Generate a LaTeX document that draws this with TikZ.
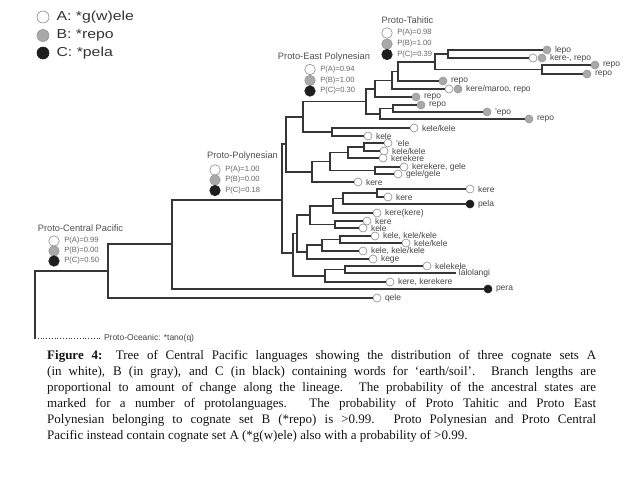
\documentclass[tikz,border=0pt]{standalone}
\usepackage{fontspec}
\setmainfont{Liberation Serif}
\setsansfont{Liberation Sans}
\usepackage{graphicx}
\definecolor{brc}{HTML}{363636}
\definecolor{cAd}{HTML}{8C8C8C}
\definecolor{cBf}{HTML}{A9A9A9}
\definecolor{cBd}{HTML}{989898}
\definecolor{cCf}{HTML}{1E1E1E}
\definecolor{ltxt}{HTML}{454545}
\definecolor{ntxt}{HTML}{505050}
\definecolor{ptc}{HTML}{666666}
\newcommand{\wideit}[1]{\scalebox{1.22}[1]{#1}}
\tikzset{
 branch/.style={draw=brc, line width=1.5pt, line cap=rect},
 dotline/.style={draw=brc, line width=0.8pt, dotted},
 leafA/.style={circle, draw=cAd, fill=white, line width=0.6pt, minimum size=8pt, inner sep=0pt},
 leafB/.style={circle, draw=cBd, fill=cBf, line width=0.6pt, minimum size=8pt, inner sep=0pt},
 leafC/.style={circle, draw=cCf, fill=cCf, line width=0.6pt, minimum size=8pt, inner sep=0pt},
 endpt/.style={inner sep=0pt, minimum size=0pt},
 leaflab/.style={font=\sffamily\fontsize{8.5}{10}\selectfont, text=ltxt, inner ysep=0pt, inner xsep=3.5pt},
 protolab/.style={font=\sffamily\fontsize{9.3}{11}\selectfont, text=ntxt, inner sep=0pt},
 probA/.style={leafA, minimum size=10.5pt},
 probB/.style={leafB, minimum size=10.5pt},
 probC/.style={leafC, minimum size=10.5pt},
 probtxt/.style={font=\sffamily\fontsize{7.6}{9}\selectfont, text=ptc, inner ysep=0pt, inner xsep=4.5pt},
 legA/.style={leafA, minimum size=12pt},
 legB/.style={leafB, minimum size=12pt},
 legC/.style={leafC, minimum size=12pt},
 legtxt/.style={font=\sffamily\fontsize{13}{15}\selectfont, text=black!80, inner ysep=0pt, inner xsep=7pt},
}
\begin{document}
\begin{tikzpicture}[x=1pt,y=-1pt]
\fill[white] (0,0) rectangle (640,480);
\useasboundingbox (0,0) rectangle (640,480);

% legend
\node[legA, label={[legtxt]right:{\wideit{A: *g(w)ele}}}] (legA) at (43,17) {};
\node[legB, label={[legtxt]right:{\wideit{B: *repo}}}] (legB) at (43,35.5) {};
\node[legC, label={[legtxt]right:{\wideit{C: *pela}}}] (legC) at (43,53) {};

% internal nodes
\coordinate (R) at (35,304.5);
\coordinate (CP) at (108,271);
\coordinate (PPa) at (172,244);
\coordinate (PP) at (282,200);
\coordinate (N1) at (286,144);
\coordinate (N2) at (303,117);
\coordinate (PEP) at (366,101.5);
\coordinate (T1) at (375,89);
\coordinate (T2) at (392,80.5);
\coordinate (T3) at (398,71.5);
\coordinate (T4) at (435,62);
\coordinate (T5) at (448,54);
\coordinate (T6) at (542,69.5);
\coordinate (E2) at (380,114);
\coordinate (E3) at (393,108.5);
\coordinate (KK) at (332,132);
\coordinate (K) at (312,172);
\coordinate (PQ) at (330,161.5);
\coordinate (P) at (348,152.5);
\coordinate (KA) at (364,147);
\coordinate (Q) at (375,170.5);
\coordinate (G) at (293,253);
\coordinate (K9) at (297,233.5);
\coordinate (K5) at (310,215);
\coordinate (K3) at (333,206);
\coordinate (K2) at (343,198.5);
\coordinate (K1) at (377,193);
\coordinate (K4) at (335,224.5);
\coordinate (K8) at (307,252);
\coordinate (K7) at (322,245);
\coordinate (K6) at (340,239.5);
\coordinate (K11) at (325,276);
\coordinate (K10) at (345,269.5);

% leaves
\node[leafB, label={[leaflab]right:lepo}] (l1) at (547,50) {};
\node[leafA] (l2a) at (533,58) {};
\node[leafB, label={[leaflab]right:{kere-, repo}}] (l2) at (542,58) {};
\node[leafB, label={[leaflab]right:repo}] (l3) at (595,65) {};
\node[leafB, label={[leaflab]right:repo}] (l4) at (587,74) {};
\node[leafB, label={[leaflab]right:repo}] (l5) at (443,81) {};
\node[leafA] (l6a) at (449,89) {};
\node[leafB, label={[leaflab]right:{kere/maroo, repo}}] (l6) at (458,89) {};
\node[leafB, label={[leaflab]right:repo}] (l7) at (416,97) {};
\node[leafB, label={[leaflab]right:repo}] (l8) at (421,105) {};
\node[leafB, label={[leaflab]right:'epo}] (l9) at (487,112) {};
\node[leafB, label={[leaflab]right:repo}] (l10) at (529,119) {};
\node[leafA, label={[leaflab]right:kele/kele}] (l11) at (414,128) {};
\node[leafA, label={[leaflab]right:kele}] (l12) at (368,136) {};
\node[leafA, label={[leaflab]right:'ele}] (l13) at (388,143) {};
\node[leafA, label={[leaflab]right:kele/kele}] (l14) at (384,151) {};
\node[leafA, label={[leaflab]right:kerekere}] (l15) at (383,158) {};
\node[leafA, label={[leaflab]right:{kerekere, gele}}] (l16) at (404,167) {};
\node[leafA, label={[leaflab]right:gele/gele}] (l17) at (398,174) {};
\node[leafA, label={[leaflab]right:kere}] (l18) at (358,182) {};
\node[leafA, label={[leaflab]right:kere}] (l19) at (470,189) {};
\node[leafA, label={[leaflab]right:kere}] (l20) at (388,197) {};
\node[leafC, label={[leaflab]right:pela}] (l21) at (470,204) {};
\node[leafA, label={[leaflab]right:kere(kere)}] (l22) at (377,213) {};
\node[leafA, label={[leaflab]right:kere}] (l23) at (367,221) {};
\node[leafA, label={[leaflab]right:kele}] (l24) at (363,228) {};
\node[leafA, label={[leaflab]right:{kele, kele/kele}}] (l25) at (375,236) {};
\node[leafA, label={[leaflab]right:kele/kele}] (l26) at (406,243) {};
\node[leafA, label={[leaflab]right:{kele, kele/kele}}] (l27) at (363,251) {};
\node[leafA, label={[leaflab]right:kege}] (l28) at (373,259) {};
\node[leafA, label={[leaflab]right:kelekele}] (l29) at (427,266) {};
\node[endpt, label={[leaflab]right:lalolangi}] (l30) at (455,273) {};
\node[leafA, label={[leaflab]right:{kere, kerekere}}] (l31) at (390,282) {};
\node[leafC, label={[leaflab]right:pera}] (l32) at (488,289) {};
\node[leafA, label={[leaflab]right:qele}] (l33) at (377,298) {};

\node[leaflab, anchor=west, inner xsep=0pt, outer sep=3pt] (PO) at (101,338) {Proto-Oceanic: *tano(q)};

% branches
\draw[branch] (R) |- (CP);
\draw[branch] (R) -- (R |- PO.west);
\draw[dotline] (R |- PO.west) -- (PO.west);
\draw[branch] (CP) |- (PPa);
\draw[branch] (CP) |- (l33.west);
\draw[branch] (PPa) |- (PP);
\draw[branch] (PPa) |- (l32.west);
\draw[branch] (PP) |- (N1);
\draw[branch] (PP) |- (G);
\draw[branch] (N1) |- (N2);
\draw[branch] (N1) |- (K);
\draw[branch] (N2) |- (PEP);
\draw[branch] (N2) |- (KK);
\draw[branch] (PEP) |- (T1);
\draw[branch] (PEP) |- (E2);
\draw[branch] (T1) |- (T2);
\draw[branch] (T1) |- (l7.west);
\draw[branch] (T2) |- (T3);
\draw[branch] (T2) |- (l6a.west);
\draw[branch] (T3) |- (T4);
\draw[branch] (T3) |- (l5.west);
\draw[branch] (T4) |- (T5);
\draw[branch] (T4) |- (T6);
\draw[branch] (T5) |- (l1.west);
\draw[branch] (T5) |- (l2a.west);
\draw[branch] (T6) |- (l3.west);
\draw[branch] (T6) |- (l4.west);
\draw[branch] (E2) |- (E3);
\draw[branch] (E2) |- (l10.west);
\draw[branch] (E3) |- (l8.west);
\draw[branch] (E3) |- (l9.west);
\draw[branch] (KK) |- (l11.west);
\draw[branch] (KK) |- (l12.west);
\draw[branch] (K) |- (PQ);
\draw[branch] (K) |- (l18.west);
\draw[branch] (PQ) |- (P);
\draw[branch] (PQ) |- (Q);
\draw[branch] (P) |- (KA);
\draw[branch] (P) |- (l15.west);
\draw[branch] (KA) |- (l13.west);
\draw[branch] (KA) |- (l14.west);
\draw[branch] (Q) |- (l16.west);
\draw[branch] (Q) |- (l17.west);
\draw[branch] (G) |- (K9);
\draw[branch] (G) |- (K11);
\draw[branch] (K9) |- (K5);
\draw[branch] (K9) |- (K8);
\draw[branch] (K5) |- (K3);
\draw[branch] (K5) |- (K4);
\draw[branch] (K3) |- (K2);
\draw[branch] (K3) |- (l22.west);
\draw[branch] (K2) |- (K1);
\draw[branch] (K2) |- (l21.west);
\draw[branch] (K1) |- (l19.west);
\draw[branch] (K1) |- (l20.west);
\draw[branch] (K4) |- (l23.west);
\draw[branch] (K4) |- (l24.west);
\draw[branch] (K8) |- (K7);
\draw[branch] (K8) |- (l28.west);
\draw[branch] (K7) |- (K6);
\draw[branch] (K7) |- (l27.west);
\draw[branch] (K6) |- (l25.west);
\draw[branch] (K6) |- (l26.west);
\draw[branch] (K11) |- (K10);
\draw[branch] (K11) |- (l31.west);
\draw[branch] (K10) |- (l29.west);
\draw[branch] (K10) |- (l30.west);

% proto-language labels
\node[protolab] (tahL) at (407.5,20.5) {Proto-Tahitic};
\node[probA, label={[probtxt]right:P(A)=0.98}] (tahA) at (387,33) {};
\node[probB, label={[probtxt]right:P(B)=1.00}] (tahB) at (387,44) {};
\node[probC, label={[probtxt]right:P(C)=0.39}] (tahC) at (387,54.5) {};

\node[protolab] (epL) at (324,57) {Proto-East Polynesian};
\node[probA, label={[probtxt]right:P(A)=0.94}] (epA) at (310,69.5) {};
\node[probB, label={[probtxt]right:P(B)=1.00}] (epB) at (310,80.5) {};
\node[probC, label={[probtxt]right:P(C)=0.30}] (epC) at (310,91) {};

\node[protolab] (ppL) at (242.5,156) {Proto-Polynesian};
\node[probA, label={[probtxt]right:P(A)=1.00}] (ppA) at (215,170) {};
\node[probB, label={[probtxt]right:P(B)=0.00}] (ppB) at (215,180) {};
\node[probC, label={[probtxt]right:P(C)=0.18}] (ppC) at (215,190.5) {};

\node[protolab] (cpL) at (80.5,228) {Proto-Central Pacific};
\node[probA, label={[probtxt]right:P(A)=0.99}] (cpA) at (54,241) {};
\node[probB, label={[probtxt]right:P(B)=0.00}] (cpB) at (54,251) {};
\node[probC, label={[probtxt]right:P(C)=0.50}] (cpC) at (54,261) {};

% caption
\node[anchor=north west, inner sep=0pt, align=left, text=black!92,
      font=\rmfamily\fontsize{13}{16}\selectfont] (cap) at (47,350.5) {%
\makebox[549pt][s]{\textbf{Figure 4:} Tree of Central Pacific languages showing the distribution of three cognate sets A}\\
\makebox[549pt][s]{(in white), B (in gray), and C (in black) containing words for ‘earth/soil’. Branch lengths are}\\
\makebox[549pt][s]{proportional to amount of change along the lineage. The probability of the ancestral states are}\\
\makebox[549pt][s]{marked for a number of protolanguages. The probability of Proto Tahitic and Proto East}\\
\makebox[549pt][s]{Polynesian belonging to cognate set B (*repo) is >0.99. Proto Polynesian and Proto Central}\\
Pacific instead contain cognate set A (*g(w)ele) also with a probability of >0.99.};
\end{tikzpicture}
\end{document}
